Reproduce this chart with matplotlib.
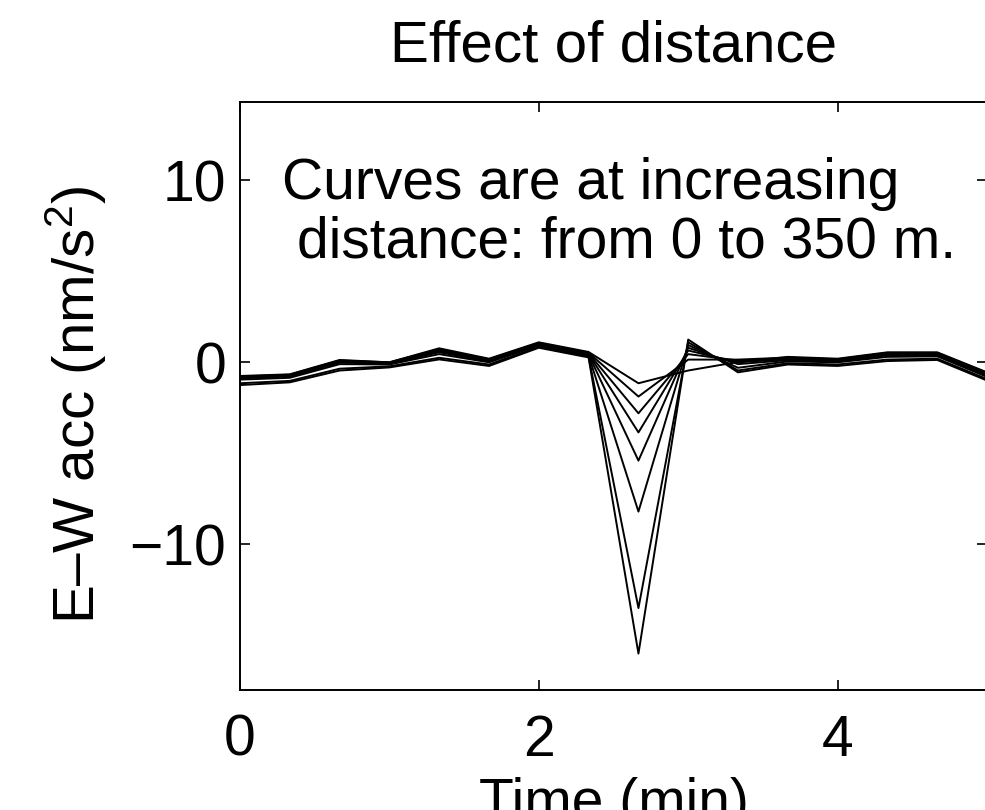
import numpy as np
import matplotlib
matplotlib.use('Agg')
import matplotlib.pyplot as plt

### DATA ###
# time samples (min)
time_min = [0.0, 0.333, 0.667, 1.0, 1.333, 1.667, 2.0, 2.333,
            2.667, 3.0, 3.333, 3.667, 4.0, 4.333, 4.667, 5.0]

# E-W acceleration (nm/s^2), one curve per distance
acc_0m = [-1.25, -1.10, -0.45, -0.28, 0.16, -0.20, 0.80, 0.27,
          -16.0, 1.25, -0.55, -0.12, -0.20, 0.07, 0.13, -1.00]
acc_50m = [-1.15, -1.02, -0.35, -0.22, 0.25, -0.12, 0.85, 0.32,
           -13.5, 1.10, -0.45, -0.05, -0.12, 0.15, 0.20, -0.92]
acc_100m = [-0.95, -0.85, -0.10, -0.12, 0.45, 0.00, 0.92, 0.38,
            -8.2, 0.95, -0.30, 0.05, 0.00, 0.30, 0.33, -0.80]
acc_150m = [-0.88, -0.78, -0.02, -0.08, 0.55, 0.05, 0.97, 0.43,
            -5.4, 0.80, -0.10, 0.12, 0.06, 0.38, 0.40, -0.72]
acc_200m = [-0.83, -0.73, 0.05, -0.04, 0.62, 0.10, 1.00, 0.47,
            -3.85, 0.65, 0.00, 0.18, 0.10, 0.44, 0.45, -0.66]
acc_250m = [-0.80, -0.70, 0.08, -0.02, 0.68, 0.14, 1.03, 0.50,
            -2.8, 0.45, 0.10, 0.22, 0.14, 0.48, 0.50, -0.62]
acc_300m = [-0.78, -0.68, 0.10, 0.00, 0.72, 0.17, 1.06, 0.53,
            -1.88, 0.15, 0.15, 0.26, 0.17, 0.52, 0.52, -0.58]
acc_350m = [-0.75, -0.66, 0.13, 0.00, 0.77, 0.20, 1.10, 0.57,
            -1.15, -0.45, 0.02, 0.30, 0.20, 0.55, 0.55, -0.55]

curves = [acc_0m, acc_50m, acc_100m, acc_150m,
          acc_200m, acc_250m, acc_300m, acc_350m]

x_ticks = [0, 2, 4]
y_ticks = [-10, 0, 10]

### PLOT ###
plt.rcParams['font.family'] = ['Liberation Sans', 'DejaVu Sans']
plt.rcParams['mathtext.fontset'] = 'custom'
plt.rcParams['mathtext.rm'] = 'Liberation Sans'
plt.rcParams['mathtext.it'] = 'Liberation Sans:italic'
plt.rcParams['font.size'] = 41

fig = plt.figure(figsize=(9.85, 8.1), dpi=100)
ax = fig.add_axes([240 / 985, 120 / 810, 747 / 985, 588 / 810])

for acc in curves:
    ax.plot(time_min, acc, color='black', lw=1.4)

ax.set_xlim(0, 5)
ax.set_ylim(-18, 14.3)
ax.set_xticks(x_ticks)
ax.set_yticks(y_ticks)

for side in ax.spines.values():
    side.set_linewidth(1.4)
ax.tick_params(direction='in', length=7, width=1.2, top=True, right=True)
ax.tick_params(axis='x', pad=17)
ax.tick_params(axis='y', pad=10)

ax.set_title('Effect of distance', fontsize=42, pad=29)
ax.set_xlabel('Time (min)')
ax.xaxis.set_label_coords(0.5, -0.148)
ax.set_ylabel('E\u2013W acc (nm/s$^2$)', fontsize=42, va='center')
ax.yaxis.set_label_coords(-0.219, 0.485)

ax.text(0.28, 8.96, 'Curves are at increasing', ha='left', va='baseline')
ax.text(0.38, 5.77, 'distance: from 0 to 350 m.', ha='left', va='baseline')

fig.savefig('out.png', dpi=100)
